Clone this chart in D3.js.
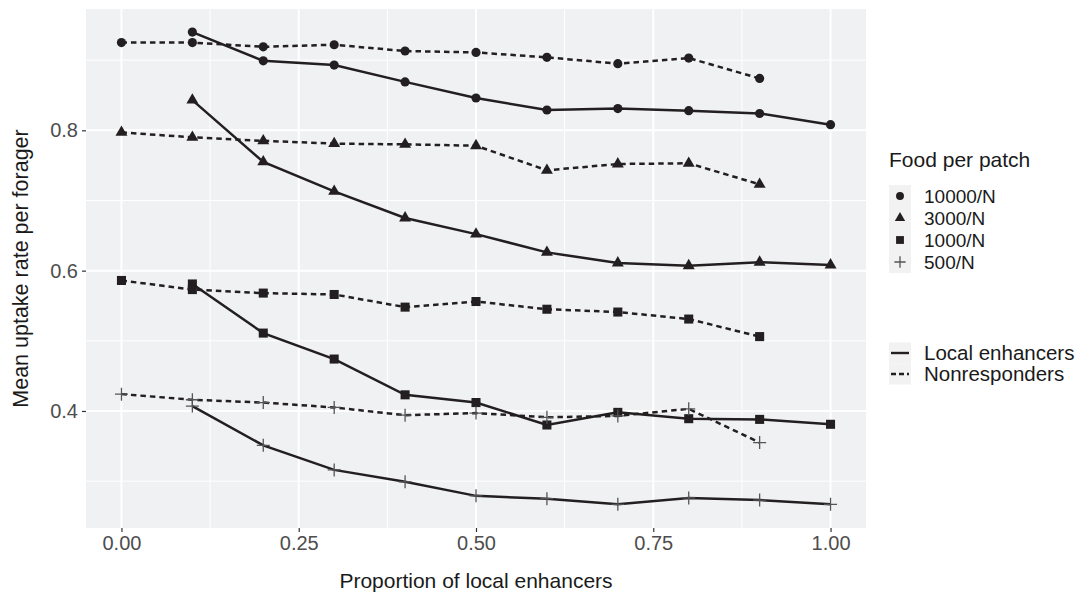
<!DOCTYPE html>
<html>
<head>
<meta charset="utf-8">
<script src="https://cdn.jsdelivr.net/npm/d3@7"></script>
<style>
  body { margin: 0; background: #fff; }
  svg text { font-family: "Liberation Sans", Arial, sans-serif; }
</style>
</head>
<body>
<div id="chart"></div>
<script>
// proportion of local enhancers
const props = [0, 0.1, 0.2, 0.3, 0.4, 0.5, 0.6, 0.7, 0.8, 0.9, 1.0];
const foodLevels = ["10000/N", "3000/N", "1000/N", "500/N"];
const groups = ["Local enhancers", "Nonresponders"];

// Local enhancers start at 0.1 and run to 1.0
const local10000 = [null, 0.940, 0.899, 0.893, 0.869, 0.846, 0.829, 0.831, 0.828, 0.824, 0.808];
const local3000  = [null, 0.843, 0.755, 0.713, 0.675, 0.652, 0.626, 0.611, 0.607, 0.612, 0.608];
const local1000  = [null, 0.581, 0.511, 0.474, 0.423, 0.412, 0.380, 0.398, 0.389, 0.388, 0.381];
const local500   = [null, 0.407, 0.351, 0.316, 0.299, 0.279, 0.275, 0.267, 0.276, 0.273, 0.267];

// Nonresponders run from 0.0 to 0.9
const non10000 = [0.925, 0.925, 0.919, 0.922, 0.913, 0.911, 0.904, 0.895, 0.903, 0.874, null];
const non3000  = [0.797, 0.790, 0.785, 0.781, 0.780, 0.778, 0.743, 0.752, 0.753, 0.723, null];
const non1000  = [0.586, 0.573, 0.568, 0.566, 0.548, 0.556, 0.545, 0.541, 0.531, 0.506, null];
const non500   = [0.424, 0.416, 0.412, 0.405, 0.394, 0.397, 0.391, 0.393, 0.403, 0.355, null];

const xTicks = [0, 0.25, 0.5, 0.75, 1];
const yTicks = [0.4, 0.6, 0.8];

const series = [
  { food: "10000/N", group: "Local enhancers", values: local10000 },
  { food: "3000/N",  group: "Local enhancers", values: local3000 },
  { food: "1000/N",  group: "Local enhancers", values: local1000 },
  { food: "500/N",   group: "Local enhancers", values: local500 },
  { food: "10000/N", group: "Nonresponders", values: non10000 },
  { food: "3000/N",  group: "Nonresponders", values: non3000 },
  { food: "1000/N",  group: "Nonresponders", values: non1000 },
  { food: "500/N",   group: "Nonresponders", values: non500 }
];

const W = 1087, H = 593;
const panel = { left: 86, right: 866, top: 9, bottom: 528 };
const ink = "#231f20";

const svg = d3.select("#chart").append("svg")
  .attr("width", W)
  .attr("height", H);

const x = d3.scaleLinear().domain([-0.05, 1.05]).range([panel.left, panel.right]);
const y = d3.scaleLinear().domain([0.2332, 0.9729]).range([panel.bottom, panel.top]);

// panel background + grid
svg.append("rect")
  .attr("x", panel.left).attr("y", panel.top)
  .attr("width", panel.right - panel.left)
  .attr("height", panel.bottom - panel.top)
  .attr("fill", "#f0f1f3");

const xMinor = [0.125, 0.375, 0.625, 0.875];
const yMinor = [0.3, 0.5, 0.7, 0.9];

svg.append("g").selectAll("line")
  .data(xMinor).enter().append("line")
  .attr("x1", d => x(d)).attr("x2", d => x(d))
  .attr("y1", panel.top).attr("y2", panel.bottom)
  .attr("stroke", "#fff").attr("stroke-width", 1);
svg.append("g").selectAll("line")
  .data(yMinor).enter().append("line")
  .attr("y1", d => y(d)).attr("y2", d => y(d))
  .attr("x1", panel.left).attr("x2", panel.right)
  .attr("stroke", "#fff").attr("stroke-width", 1);
svg.append("g").selectAll("line")
  .data(xTicks).enter().append("line")
  .attr("x1", d => x(d)).attr("x2", d => x(d))
  .attr("y1", panel.top).attr("y2", panel.bottom)
  .attr("stroke", "#fff").attr("stroke-width", 2);
svg.append("g").selectAll("line")
  .data(yTicks).enter().append("line")
  .attr("y1", d => y(d)).attr("y2", d => y(d))
  .attr("x1", panel.left).attr("x2", panel.right)
  .attr("stroke", "#fff").attr("stroke-width", 2);

// axes
const xAxis = d3.axisBottom(x).tickValues(xTicks).tickFormat(d3.format(".2f")).tickSize(4).tickPadding(4);
const yAxis = d3.axisLeft(y).tickValues(yTicks).tickFormat(d3.format(".1f")).tickSize(4).tickPadding(4);

const gx = svg.append("g")
  .attr("transform", `translate(0,${panel.bottom})`)
  .call(xAxis);
const gy = svg.append("g")
  .attr("transform", `translate(${panel.left},0)`)
  .call(yAxis);
[gx, gy].forEach(g => {
  g.select(".domain").remove();
  g.selectAll(".tick line").attr("stroke", "#333").attr("stroke-width", 1.2);
  g.selectAll(".tick text").attr("fill", "#4d4d4d").style("font-size", "20px");
});

svg.append("text")
  .attr("x", (panel.left + panel.right) / 2)
  .attr("y", 588)
  .attr("text-anchor", "middle")
  .style("font-size", "21px")
  .attr("fill", "#1a1a1a")
  .text("Proportion of local enhancers");

svg.append("text")
  .attr("transform", `translate(28,${(panel.top + panel.bottom) / 2}) rotate(-90)`)
  .attr("text-anchor", "middle")
  .style("font-size", "21.5px")
  .attr("fill", "#1a1a1a")
  .text("Mean uptake rate per forager");

// lines
const line = d3.line()
  .defined(d => d.v != null)
  .x(d => x(d.p))
  .y(d => y(d.v));

const plot = svg.append("g");

series.forEach(s => {
  const pts = props.map((p, i) => ({ p: p, v: s.values[i] }));
  plot.append("path")
    .datum(pts)
    .attr("d", line)
    .attr("fill", "none")
    .attr("stroke", ink)
    .attr("stroke-width", 2.5)
    .attr("stroke-dasharray", s.group === "Nonresponders" ? "5.5,4" : null);
});

// markers
function marker(g, food, scale) {
  scale = scale || 1;
  if (food === "10000/N") {
    g.append("path").attr("d", d3.symbol(d3.symbolCircle, 66 * scale)()).attr("fill", ink);
  } else if (food === "3000/N") {
    g.append("path").attr("d", d3.symbol(d3.symbolTriangle, 62 * scale)()).attr("fill", ink);
  } else if (food === "1000/N") {
    g.append("path").attr("d", d3.symbol(d3.symbolSquare, 82 * scale)()).attr("fill", ink);
  } else {
    const r = 6.5 * Math.sqrt(scale);
    g.append("path")
      .attr("d", `M${-r},0H${r}M0,${-r}V${r}`)
      .attr("stroke", "#555").attr("stroke-width", 1.3).attr("fill", "none");
  }
}

series.forEach(s => {
  props.forEach((p, i) => {
    const v = s.values[i];
    if (v == null) return;
    const g = plot.append("g").attr("transform", `translate(${x(p)},${y(v)})`);
    marker(g, s.food, 1);
  });
});

// legend
const lg = svg.append("g").attr("transform", "translate(889,0)");
lg.append("text")
  .attr("x", 0).attr("y", 167)
  .style("font-size", "21px")
  .attr("fill", "#1a1a1a")
  .text("Food per patch");

const keyY = d3.scalePoint().domain(foodLevels).range([196, 262]);
foodLevels.forEach(f => {
  lg.append("rect")
    .attr("x", 0).attr("y", keyY(f) - 11)
    .attr("width", 22).attr("height", 22)
    .attr("fill", "#f2f2f2");
});
foodLevels.forEach(f => {
  const g = lg.append("g").attr("transform", `translate(11,${keyY(f)})`);
  marker(g, f, 0.75);
  lg.append("text")
    .attr("x", 35).attr("y", keyY(f))
    .attr("dy", "0.35em")
    .style("font-size", "19px")
    .attr("fill", "#1a1a1a")
    .text(f);
});

const grpY = d3.scalePoint().domain(groups).range([353, 374]);
groups.forEach(gname => {
  lg.append("rect")
    .attr("x", 0).attr("y", grpY(gname) - 10.5)
    .attr("width", 22).attr("height", 21)
    .attr("fill", "#f2f2f2");
});
groups.forEach(gname => {
  lg.append("line")
    .attr("x1", 2).attr("x2", 20)
    .attr("y1", grpY(gname)).attr("y2", grpY(gname))
    .attr("stroke", ink).attr("stroke-width", 2.4)
    .attr("stroke-dasharray", gname === "Nonresponders" ? "5,3" : null);
  lg.append("text")
    .attr("x", 35).attr("y", grpY(gname))
    .attr("dy", "0.35em")
    .style("font-size", "20.5px")
    .attr("fill", "#1a1a1a")
    .text(gname);
});
</script>
</body>
</html>
